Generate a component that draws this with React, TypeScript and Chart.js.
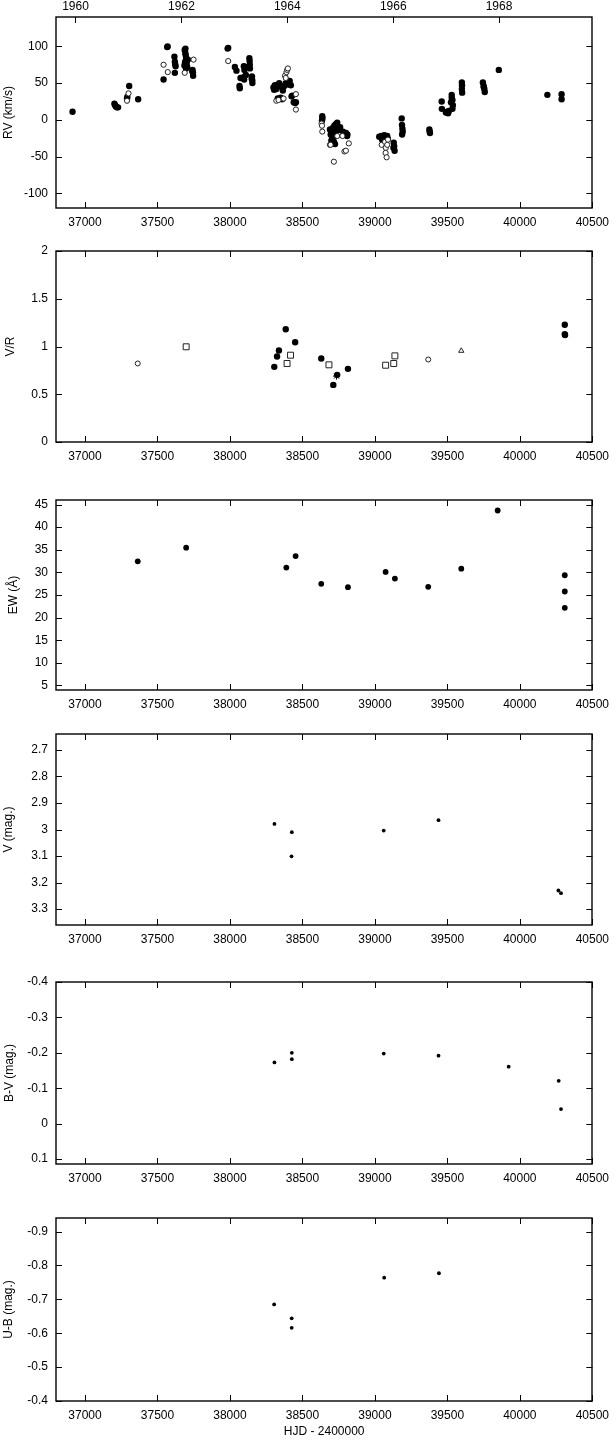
import React, { useEffect, useRef } from 'react';
import { Chart, registerables } from 'chart.js';

Chart.register(...registerables);
Chart.defaults.font.family = '"Liberation Sans", Arial, Helvetica, sans-serif';
Chart.defaults.font.size = 12;
Chart.defaults.color = '#000';

// ---------- axis definitions ----------
const X_MIN = 36800;
const X_MAX = 40500;
const X_TICKS = [37000, 37500, 38000, 38500, 39000, 39500, 40000, 40500];
const YEAR_LABELS = ['1960', '1962', '1964', '1966', '1968'];
const YEAR_HJD = [36934.5, 37665.5, 38395.5, 39126.5, 39856.5];

const RV_TICKS = [-100, -50, 0, 50, 100];
const VR_TICKS = [0, 0.5, 1, 1.5, 2];
const EW_TICKS = [5, 10, 15, 20, 25, 30, 35, 40, 45];
const V_TICKS = [2.7, 2.8, 2.9, 3.0, 3.1, 3.2, 3.3];
const BV_TICKS = [-0.4, -0.3, -0.2, -0.1, 0, 0.1];
const UB_TICKS = [-0.9, -0.8, -0.7, -0.6, -0.5, -0.4];

// ---------- data ----------
const RV_FILLED_HJD = [
  36914, 37203, 37208, 37213, 37220, 37228, 37290, 37292, 37305, 37367,
  37542, 37567, 37570, 37617, 37620, 37622, 37625, 37620, 37686, 37688,
  37690, 37692, 37693, 37694, 37695, 37697, 37698, 37700, 37702, 37705,
  37710, 37740, 37742, 37745, 37746, 37984, 37988, 38034, 38045, 38066,
  38068, 38073, 38094, 38096, 38098, 38100, 38103, 38110, 38134, 38136,
  38137, 38138, 38150, 38152, 38154, 38155, 38300, 38305, 38310, 38320,
  38330, 38330, 38340, 38350, 38355, 38360, 38365, 38375, 38385, 38395,
  38405, 38412, 38420, 38425, 38430, 38440, 38450, 38455, 38635, 38637,
  38638, 38690, 38695, 38700, 38700, 38705, 38710, 38712, 38715, 38718,
  38720, 38725, 38730, 38740, 38745, 38760, 38780, 38800, 38808, 38810,
  39030, 39045, 39050, 39055, 39065, 39070, 39075, 39085, 39090, 39128,
  39130, 39133, 39136, 39185, 39187, 39188, 39190, 39192, 39376, 39378,
  39380, 39461, 39462, 39490, 39500, 39505, 39510, 39525, 39530, 39530,
  39535, 39538, 39535, 39600, 39601, 39600, 39602, 39745, 39750, 39752,
  39755, 39758, 39855, 40190, 40288, 40288,
];
const RV_FILLED_VAL = [
  11, 22, 20, 18, 17, 17, 29, 31, 46, 28,
  55, 99, 100, 86, 79, 76, 73, 64, 74, 95,
  78, 91, 97, 80, 88, 70, 84, 76, 79, 72,
  82, 66, 68, 64, 60, 97, 98, 72, 67, 46,
  43, 57, 58, 73, 55, 68, 72, 61, 84, 80,
  75, 70, 56, 59, 54, 50, 44, 41, 47, 42,
  48, 29, 50, 30, 45, 28, 40, 46, 50, 52,
  48, 53, 47, 32, 33, 24, 23, 24, -1, 5,
  2, -13, -20, -16, -28, -22, -11, -25, -18, -30,
  -8, -33, -6, -4, -14, -10, -16, -18, -22, -20,
  -23, -22, -27, -24, -21, -28, -23, -22, -26, -38,
  -31, -36, -42, 2, -7, -20, -12, -16, -13, -16,
  -18, 25, 15, 10, 11, 9, 12, 24, 34, 30,
  27, 20, 15, 51, 47, 42, 37, 51, 46, 44,
  42, 38, 68, 34, 35, 28,
];
const RV_OPEN_HJD = [
  37290, 37300, 37542, 37571, 37688, 37749, 37988, 38320, 38335, 38370,
  38380, 38385, 38390, 38395, 38400, 38455, 38455, 38632, 38635, 38637,
  38690, 38694, 38717, 38740, 38776, 38790, 38800, 38820, 39047, 39070,
  39074, 39075, 39081, 39085, 39090,
];
const RV_OPEN_VAL = [
  26, 36, 75, 65, 64, 82, 80, 26, 27, 29,
  60, 57, 65, 68, 70, 35, 14, -5, -8, -16,
  -34, -34, -57, -22, -22, -43, -42, -32, -34, -30,
  -45, -38, -51, -34, -27,
];

const VR_FILLED_HJD = [38306, 38325, 38338, 38385, 38450, 38630, 38713, 38740, 38814, 40310, 40310, 40312];
const VR_FILLED_VAL = [0.787, 0.895, 0.958, 1.18, 1.045, 0.874, 0.598, 0.703, 0.766, 1.227, 1.13, 1.12];
const VR_OPEN_HJD = [37364, 39368];
const VR_OPEN_VAL = [0.822, 0.864];
const VR_SQUARE_HJD = [37698, 38394, 38418, 38683, 39074, 39130, 39138];
const VR_SQUARE_VAL = [0.997, 0.822, 0.909, 0.808, 0.804, 0.822, 0.902];
const VR_TRIANGLE_HJD = [39596];
const VR_TRIANGLE_VAL = [0.955];
const VR_STAR_HJD = [38735];
const VR_STAR_VAL = [0.69];

const EW_HJD = [37364, 37698, 38389, 38453, 38630, 38814, 39074, 39138, 39368, 39596, 39847, 40310, 40310, 40310];
const EW_VAL = [32.45, 35.46, 31.06, 33.6, 27.46, 26.72, 30.1, 28.63, 26.8, 30.83, 43.68, 29.37, 25.77, 22.17];

const V_HJD = [38307, 38427, 38425, 39061, 39439, 40266, 40284];
const V_VAL = [2.979, 3.01, 3.101, 3.004, 2.965, 3.23, 3.24];

const BV_HJD = [38307, 38427, 38427, 39061, 39439, 39923, 40268, 40284];
const BV_VAL = [-0.173, -0.2, -0.182, -0.198, -0.192, -0.161, -0.121, -0.041];

const UB_HJD = [38305, 38426, 38426, 39064, 39442];
const UB_VAL = [-0.685, -0.644, -0.616, -0.764, -0.777];

// ---------- helpers ----------
const pts = (xs: number[], ys: number[]) => xs.map((x, i) => ({ x, y: ys[i] }));
const fmt = (v: number) => String(Math.round(v * 1000) / 1000);

const filled = (data: any, r: number) => ({
  data, pointStyle: 'circle', pointRadius: r, pointBackgroundColor: '#000',
  pointBorderColor: '#000', pointBorderWidth: 0, showLine: false,
});
const hollow = (data: any, style: string, r: number) => ({
  data, pointStyle: style, pointRadius: r, pointBackgroundColor: '#fff',
  pointBorderColor: '#222', pointBorderWidth: 1, showLine: false,
});

const framePlugin = {
  id: 'frame',
  afterDraw(chart: any, _args: any, opts: any) {
    const { ctx, chartArea: a, scales } = chart;
    const L = 6;
    ctx.save();
    ctx.strokeStyle = '#000';
    ctx.lineWidth = 1;
    ctx.beginPath();
    for (const t of scales.x.ticks) {
      const px = Math.round(scales.x.getPixelForValue(t.value)) + 0.5;
      ctx.moveTo(px, a.bottom);
      ctx.lineTo(px, a.bottom - L);
      if (!opts.years) {
        ctx.moveTo(px, a.top);
        ctx.lineTo(px, a.top + L);
      }
    }
    if (scales.x2) {
      for (const t of scales.x2.ticks) {
        const px = Math.round(scales.x2.getPixelForValue(t.value)) + 0.5;
        ctx.moveTo(px, a.top);
        ctx.lineTo(px, a.top + L);
      }
    }
    for (const t of scales.y.ticks) {
      const py = Math.round(scales.y.getPixelForValue(t.value)) + 0.5;
      ctx.moveTo(a.left, py);
      ctx.lineTo(a.left + L, py);
      ctx.moveTo(a.right, py);
      ctx.lineTo(a.right - L, py);
    }
    ctx.stroke();
    ctx.lineWidth = 1.4;
    ctx.strokeRect(Math.round(a.left), Math.round(a.top), Math.round(a.right - a.left), Math.round(a.bottom - a.top));
    ctx.restore();
  },
};

type Spec = {
  plotTop: number;
  plotH: number;
  years?: boolean;
  xTitle?: string;
  xH: number;
  yTitle: string;
  yTitlePad: number;
  yMin: number;
  yMax: number;
  yTicks: number[];
  reverse?: boolean;
  datasets: any[];
};

const TOP_SPACE = 17;

const SPECS: Spec[] = [
  {
    plotTop: 17, plotH: 191, years: true, xH: 30,
    yTitle: 'RV (km/s)', yTitlePad: 1, yMin: -120, yMax: 140, yTicks: RV_TICKS,
    datasets: [hollow(pts(RV_OPEN_HJD, RV_OPEN_VAL), 'circle', 2.6), filled(pts(RV_FILLED_HJD, RV_FILLED_VAL), 3.2)],
  },
  {
    plotTop: 251, plotH: 191, xH: 30,
    yTitle: 'V/R', yTitlePad: 3, yMin: 0, yMax: 2, yTicks: VR_TICKS,
    datasets: [
      { ...hollow(pts(VR_STAR_HJD, VR_STAR_VAL), 'star', 3.5), pointBorderColor: '#000' },
      hollow(pts(VR_OPEN_HJD, VR_OPEN_VAL), 'circle', 2.5),
      hollow(pts(VR_SQUARE_HJD, VR_SQUARE_VAL), 'rect', 4.2),
      hollow(pts(VR_TRIANGLE_HJD, VR_TRIANGLE_VAL), 'triangle', 3),
      filled(pts(VR_FILLED_HJD, VR_FILLED_VAL), 3.2),
    ],
  },
  {
    plotTop: 500, plotH: 190, xH: 30,
    yTitle: 'EW (Å)', yTitlePad: 6, yMin: 4, yMax: 46, yTicks: EW_TICKS,
    datasets: [filled(pts(EW_HJD, EW_VAL), 2.9)],
  },
  {
    plotTop: 734, plotH: 191, xH: 30,
    yTitle: 'V (mag.)', yTitlePad: 1, yMin: 2.64, yMax: 3.36, yTicks: V_TICKS, reverse: true,
    datasets: [filled(pts(V_HJD, V_VAL), 1.9)],
  },
  {
    plotTop: 982, plotH: 182, xH: 30,
    yTitle: 'B-V (mag.)', yTitlePad: 2, yMin: -0.4, yMax: 0.114, yTicks: BV_TICKS, reverse: true,
    datasets: [filled(pts(BV_HJD, BV_VAL), 1.9)],
  },
  {
    plotTop: 1218, plotH: 183, xH: 38, xTitle: 'HJD - 2400000',
    yTitle: 'U-B (mag.)', yTitlePad: 1, yMin: -0.94, yMax: -0.4, yTicks: UB_TICKS, reverse: true,
    datasets: [filled(pts(UB_HJD, UB_VAL), 1.9)],
  },
];

function buildConfig(spec: Spec): any {
  const noGrid = { display: false, drawTicks: false };
  const scales: any = {
    x: {
      type: 'linear', position: 'bottom', min: X_MIN, max: X_MAX,
      afterBuildTicks: (s: any) => { s.ticks = X_TICKS.map((v) => ({ value: v })); },
      afterFit: (s: any) => { s.height = spec.xH; },
      grid: noGrid, border: { display: false },
      ticks: { padding: 7, autoSkip: false, maxRotation: 0, minRotation: 0, color: '#000', callback: (v: any) => String(v) },
      title: spec.xTitle
        ? { display: true, text: spec.xTitle, color: '#000', font: { size: 12 }, padding: { top: 0, bottom: 0 } }
        : { display: false },
    },
    y: {
      type: 'linear', position: 'left', min: spec.yMin, max: spec.yMax, reverse: !!spec.reverse,
      afterBuildTicks: (s: any) => { s.ticks = spec.yTicks.map((v) => ({ value: v })); },
      afterFit: (s: any) => { s.width = 56; },
      grid: noGrid, border: { display: false },
      ticks: { padding: 8, autoSkip: false, color: '#000', callback: (v: any) => fmt(Number(v)) },
      title: { display: true, text: spec.yTitle, color: '#000', font: { size: 12 }, padding: { top: spec.yTitlePad, bottom: 0 } },
    },
  };
  if (spec.years) {
    scales.x2 = {
      type: 'linear', position: 'top', min: X_MIN, max: X_MAX,
      afterBuildTicks: (s: any) => { s.ticks = YEAR_HJD.map((v) => ({ value: v })); },
      afterFit: (s: any) => { s.height = TOP_SPACE; },
      grid: noGrid, border: { display: false },
      ticks: { padding: 3, autoSkip: false, maxRotation: 0, minRotation: 0, color: '#000', callback: (_v: any, i: number) => YEAR_LABELS[i] },
    };
  }
  return {
    type: 'scatter',
    data: { datasets: spec.datasets },
    options: {
      responsive: false,
      maintainAspectRatio: false,
      animation: false,
      devicePixelRatio: 1,
      layout: { autoPadding: false, padding: { left: 0, right: 18, top: spec.years ? 0 : TOP_SPACE, bottom: 0 } },
      plugins: { legend: { display: false }, tooltip: { enabled: false }, frame: { years: !!spec.years } },
      scales,
    },
    plugins: [framePlugin],
  };
}

function Panel({ spec }: { spec: Spec }) {
  const ref = useRef<HTMLCanvasElement>(null);
  const canvasTop = spec.plotTop - TOP_SPACE;
  const canvasH = TOP_SPACE + spec.plotH + spec.xH;
  useEffect(() => {
    const chart = new Chart(ref.current as HTMLCanvasElement, buildConfig(spec));
    return () => chart.destroy();
  }, [spec]);
  return (
    <canvas
      ref={ref}
      width={616}
      height={canvasH}
      style={{ position: 'absolute', left: 0, top: canvasTop, width: 616, height: canvasH }}
    />
  );
}

export default function App() {
  return (
    <div style={{ position: 'absolute', left: 0, top: 0, width: 616, height: 1444, background: '#fff' }}>
      {SPECS.map((s, i) => (
        <Panel key={i} spec={s} />
      ))}
    </div>
  );
}
